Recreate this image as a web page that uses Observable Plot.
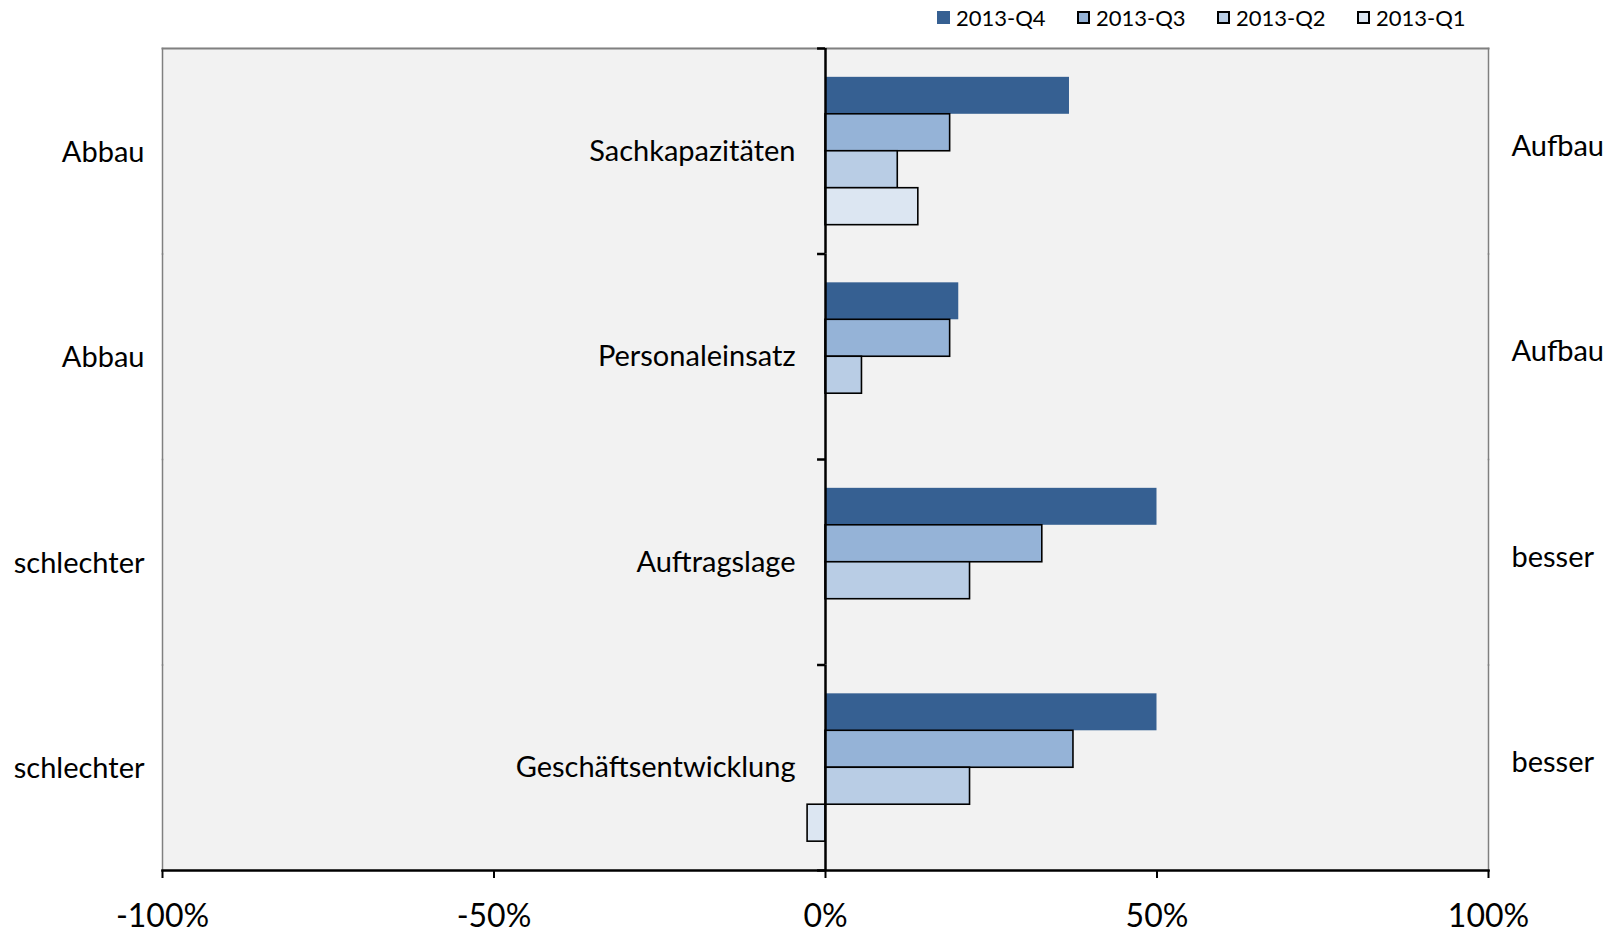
<!DOCTYPE html>
<html>
<head>
<meta charset="utf-8">
<script src="https://cdn.jsdelivr.net/npm/d3@7"></script>
<script src="https://cdn.jsdelivr.net/npm/@observablehq/plot@0.6"></script>
<style>
  html, body { margin: 0; padding: 0; background: #fff; }
  body { width: 1622px; height: 935px; overflow: hidden; font-family: Lato, "Open Sans", sans-serif; }
  #legend { height: 34px; display: flex; padding-left: 937px; align-items: center; font-size: 22px; color: #000; }
  #legend .item { width: 140px; display: flex; align-items: center; }
  #legend .sw { width: 13px; height: 13px; box-sizing: border-box; margin-right: 6px; }
  #chart svg { display: block; }
</style>
</head>
<body>
<div id="legend"></div>
<div id="chart"></div>
<script>
const categories = ["Sachkapazitäten", "Personaleinsatz", "Auftragslage", "Geschäftsentwicklung"];
const series = ["2013-Q4", "2013-Q3", "2013-Q2", "2013-Q1"];
const q4 = [0.368, 0.201, 0.50, 0.50];
const q3 = [0.188, 0.188, 0.327, 0.374];
const q2 = [0.109, 0.055, 0.218, 0.218];
const q1 = [0.140, null, null, -0.027];
const leftLabels = ["Abbau", "Abbau", "schlechter", "schlechter"];
const rightLabels = ["Aufbau", "Aufbau", "besser", "besser"];
const xTicks = [-1, -0.5, 0, 0.5, 1];
const colors = ["#366092", "#95B3D7", "#B9CDE5", "#DCE6F2"];

const seriesValues = [q4, q3, q2, q1];
const rows = [];
categories.forEach((cat, ci) => {
  series.forEach((s, si) => {
    const v = seriesValues[si][ci];
    if (v != null) rows.push({cat, series: s, value: v});
  });
});

// legend
const legend = document.getElementById("legend");
series.forEach((s, i) => {
  const item = document.createElement("div");
  item.className = "item";
  const sw = document.createElement("div");
  sw.className = "sw";
  sw.style.background = colors[i];
  if (i > 0) sw.style.border = "2px solid #000";
  item.appendChild(sw);
  const t = document.createElement("span");
  t.textContent = s;
  item.appendChild(t);
  legend.appendChild(item);
});

const W = 1622, H = 901, MT = 14, MB = 65, ML = 162, MR = 134;
const padOuter = 0.78;
const facetH = (H - MT - MB) / categories.length;
const step = facetH / (series.length + 2 * padOuter);
const fmt = d => (d < 0 ? "-" : "") + Math.abs(Math.round(d * 100)) + "%";

const chart = Plot.plot({
  width: W,
  height: H,
  marginTop: MT,
  marginBottom: MB,
  marginLeft: ML,
  marginRight: MR,
  style: {fontFamily: "Lato, 'Open Sans', sans-serif", color: "#000", background: "transparent"},
  x: {domain: [-1, 1], axis: null},
  fy: {domain: categories, padding: 0, axis: null, round: false},
  y: {domain: series, paddingInner: 0, paddingOuter: padOuter, axis: null, round: false},
  color: {domain: series, range: colors},
  marks: [
    Plot.frame({fill: "#F2F2F2", stroke: "none", insetTop: -1, insetBottom: -1}),
    Plot.frame({anchor: "left", stroke: "#808080", strokeWidth: 1.5}),
    Plot.frame({anchor: "right", stroke: "#808080", strokeWidth: 1.5}),
    Plot.frame({anchor: "top", facetAnchor: "top", stroke: "#808080", strokeWidth: 2}),
    Plot.barX(rows.filter(d => d.series === series[0]), {fy: "cat", y: "series", x: "value", fill: "series"}),
    Plot.barX(rows.filter(d => d.series !== series[0]), {fy: "cat", y: "series", x: "value", fill: "series", stroke: "#000", strokeWidth: 1.6}),
    Plot.ruleX([0], {stroke: "#000", strokeWidth: 2.5}),
    Plot.ruleY(categories, {fy: d => d, y: () => series[0], x1: -0.012, x2: 0, stroke: "#000", strokeWidth: 2.5, dy: -(padOuter + 0.5) * step}),
    Plot.ruleY(categories.slice(-1), {fy: d => d, y: () => series[series.length - 1], x1: -0.012, x2: 0, stroke: "#000", strokeWidth: 2.5, dy: (padOuter + 0.5) * step}),
    Plot.frame({anchor: "bottom", facetAnchor: "bottom", stroke: "#000", strokeWidth: 2.5}),
    Plot.axisX({ticks: xTicks, tickFormat: fmt, tickSize: 8, tickPadding: 26, fontSize: 32, stroke: "#000", strokeWidth: 2, label: null, facetAnchor: "bottom"}),
    Plot.text(categories, {fy: d => d, x: 0, text: d => d, frameAnchor: "middle", textAnchor: "end", dx: -30, fontSize: 29, fill: "#000"}),
    Plot.text(categories, {fy: d => d, text: (d, i) => leftLabels[i], frameAnchor: "left", textAnchor: "end", dx: -18, dy: 1, fontSize: 29, fill: "#000"}),
    Plot.text(categories, {fy: d => d, text: (d, i) => rightLabels[i], frameAnchor: "right", textAnchor: "start", dx: 23, dy: -5, fontSize: 29, fill: "#000"})
  ]
});
document.getElementById("chart").appendChild(chart);
</script>
</body>
</html>
